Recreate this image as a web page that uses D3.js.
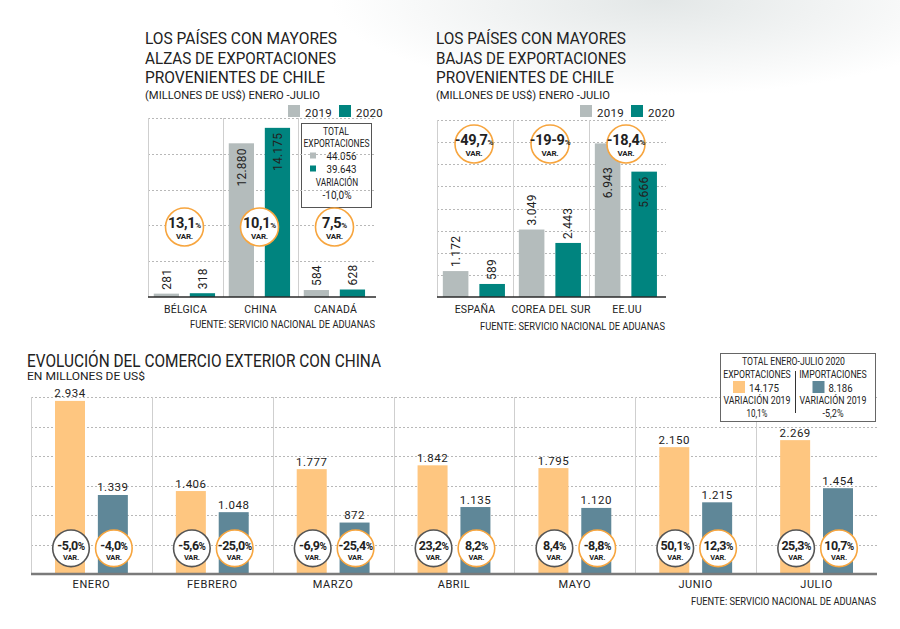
<!DOCTYPE html>
<html><head><meta charset="utf-8">
<script src="https://cdn.jsdelivr.net/npm/d3@7"></script>
<style>
body{margin:0;background:#fff;}
svg text{font-family:Roboto,"Noto Sans",sans-serif;fill:#222;}
</style></head><body>
<svg id="c" width="900" height="629"></svg>
<script>
// ---------- DATA ----------
const years = ["2019", "2020"];
const topLeftCategories = ["BÉLGICA", "CHINA", "CANADÁ"];
const topLeft2019 = [281, 12880, 584];
const topLeft2020 = [318, 14175, 628];
const topLeftVariation = ["13,1", "10,1", "7,5"];
const topLeftTicks = [0, 3000, 6000, 9000, 12000, 15000];
const totalExportValues = ["44.056", "39.643"];
const totalExportVariation = "-10,0%";

const topRightCategories = ["ESPAÑA", "COREA DEL SUR", "EE.UU"];
const topRight2019 = [1172, 3049, 6943];
const topRight2020 = [589, 2443, 5666];
const topRightVariation = ["-49,7", "-19-9", "-18,4"];
const topRightTicks = [0, 1000, 2000, 3000, 4000, 5000, 6000, 7000, 8000];

const months = ["ENERO", "FEBRERO", "MARZO", "ABRIL", "MAYO", "JUNIO", "JULIO"];
const chinaExports = [2934, 1406, 1777, 1842, 1795, 2150, 2269];
const chinaImports = [1339, 1048, 872, 1135, 1120, 1215, 1454];
const exportsVariation = ["-5,0", "-5,6", "-6,9", "23,2", "8,4", "50,1", "25,3"];
const importsVariation = ["-4,0", "-25,0", "-25,4", "8,2", "-8,8", "12,3", "10,7"];
const bottomTicks = [0, 500, 1000, 1500, 2000, 2500, 3000];
const totalChina = ["14.175", "8.186"];
const totalChinaVariation = ["10,1%", "-5,2%"];

// ---------- SETUP ----------
const svg = d3.select("#c");
const fmt = d3.formatLocale({decimal: ",", thousands: ".", grouping: [3], currency: ["$", ""]}).format(",d");
const GRAY = "#b4bcbc", TEAL = "#00847f", ORANGE = "#fec680", BLUE = "#5f8798", CIRC = "#f7a53e";

const defs = svg.append("defs");
const rg = defs.append("radialGradient").attr("id", "bg").attr("gradientUnits", "userSpaceOnUse")
  .attr("cx", 0).attr("cy", 0).attr("r", 1).attr("gradientTransform", "translate(660,0) scale(330,95)");
rg.append("stop").attr("offset", 0).attr("stop-color", "#e3e7e7");
rg.append("stop").attr("offset", 1).attr("stop-color", "#ffffff");
svg.append("rect").attr("x", 0).attr("y", 0).attr("width", 900).attr("height", 100).attr("fill", "url(#bg)");

function txt(g, x, y, s, size, opts = {}) {
  const t = g.append("text").attr("x", x).attr("y", y).text(s).style("font-size", size + "px");
  if (opts.anchor) t.attr("text-anchor", opts.anchor);
  if (opts.weight) t.style("font-weight", opts.weight);
  if (opts.ls) t.style("letter-spacing", opts.ls + "px");
  if (opts.fill) t.style("fill", opts.fill);
  if (opts.w) t.attr("textLength", opts.w).attr("lengthAdjust", "spacingAndGlyphs");
  return t;
}

function legend(g, x, y) {
  [[GRAY, "2019"], [TEAL, "2020"]].forEach((d, i) => {
    const ox = x + i * 51;
    g.append("rect").attr("x", ox).attr("y", y - 12).attr("width", 12).attr("height", 12).attr("fill", d[0]);
    txt(g, ox + 17, y, d[1], 11.5, {ls: 0.3});
  });
}

function varCircle(g, cx, cy, r, label, stroke, big, small, nb, vb, ls, vs) {
  g.append("circle").attr("cx", cx).attr("cy", cy).attr("r", r).attr("fill", "#fff")
    .attr("stroke", stroke).attr("stroke-width", 1.6);
  const t = txt(g, cx, cy + nb, label, big, {anchor: "middle", weight: "bold", ls: ls});
  t.append("tspan").text("%").style("font-size", small + "px");
  txt(g, cx, cy + vb, "VAR.", vs, {anchor: "middle", weight: "bold", ls: -0.2});
}

function pairChart(o) {
  const g = svg.append("g");
  const x0 = d3.scaleBand().domain(o.cats).range([o.left, o.right]);
  const x1 = d3.scaleBand().domain(years).range([0, x0.bandwidth()]).paddingInner(0.3).paddingOuter(0.19).align(0.42);
  const y = d3.scaleLinear().domain([0, d3.max(o.ticks)]).range([o.bottom, o.top]);
  g.selectAll(".h").data(o.ticks.filter(t => t > 0)).join("line")
    .attr("x1", o.left).attr("x2", o.gridRight).attr("y1", d => Math.round(y(d)) + 0.5).attr("y2", d => Math.round(y(d)) + 0.5)
    .attr("stroke", "#b8b8b8").attr("stroke-dasharray", "2,2");
  g.selectAll(".v").data(o.cats).join("line")
    .attr("x1", d => Math.round(x0(d)) + 0.5).attr("x2", d => Math.round(x0(d)) + 0.5)
    .attr("y1", y(d3.max(o.ticks))).attr("y2", y(0)).attr("stroke", "#cfcfcf");
  const rows = o.cats.map((c, i) => ({c, i, vals: [o.a[i], o.b[i]]}));
  rows.forEach(r => {
    r.vals.forEach((v, k) => {
      const bx = x0(r.c) + x1(years[k]);
      g.append("rect").attr("x", bx).attr("y", y(v)).attr("width", x1.bandwidth()).attr("height", y(0) - y(v))
        .attr("fill", k === 0 ? GRAY : TEAL);
    });
  });
  g.append("line").attr("x1", o.left).attr("x2", o.gridRight).attr("y1", y(0)).attr("y2", y(0)).attr("stroke", "#2a2a2a").attr("stroke-width", 1.6);
  const R = 19;
  rows.forEach(r => {
    varCircle(g, x0(r.c) + x0.bandwidth() / 2 - 1, o.circleY, R, o.vars[r.i], CIRC, 14.5, 8, 1, 12, -0.3, 8);
  });
  rows.forEach(r => {
    r.vals.forEach((v, k) => {
      const cx = x0(r.c) + x1(years[k]) + x1.bandwidth() / 2;
      const h = y(0) - y(v);
      let yy, anchor;
      if (h > 100) {
        const top = y(v) + 5, bottom = top + 38;
        const ccx = x0(r.c) + x0.bandwidth() / 2 - 1;
        const overlap = bottom > o.circleY - R && top < o.circleY + R && Math.abs(cx - ccx) < R + 8;
        yy = overlap ? o.circleY + R + 4 : top;
        anchor = "end";
      } else {
        yy = y(v) - 4; anchor = "start";
      }
      g.append("text").attr("transform", `translate(${cx},${yy}) rotate(-90)`).attr("dy", "0.36em")
        .attr("text-anchor", anchor).text(fmt(v)).style("font-size", "12px").style("letter-spacing", "0.2px");
    });
  });
  o.cats.forEach(c => txt(g, x0(c) + x0.bandwidth() / 2, y(0) + 16, c, 10.5, {anchor: "middle", ls: 0.2}));
  return g;
}

// ---------- TOP LEFT ----------
const gl = svg.append("g");
txt(gl, 145, 44, "LOS PAÍSES CON MAYORES", 16.5, {w: 192});
txt(gl, 145, 63.5, "ALZAS DE EXPORTACIONES", 16.5, {w: 191});
txt(gl, 145, 83, "PROVENIENTES DE CHILE", 16.5, {w: 180});
txt(gl, 145, 99, "(MILLONES DE US$) ENERO -JULIO", 11, {w: 175});
legend(gl, 288, 117);
pairChart({cats: topLeftCategories, a: topLeft2019, b: topLeft2020, vars: topLeftVariation,
  ticks: topLeftTicks, left: 148, right: 373, gridRight: 376, top: 118, bottom: 297, circleY: 227});
txt(gl, 375, 328, "FUENTE: SERVICIO NACIONAL DE ADUANAS", 10, {anchor: "end", w: 185});
// total box
gl.append("rect").attr("x", 301.5).attr("y", 123.5).attr("width", 70).attr("height", 84).attr("fill", "#fff").attr("stroke", "#555");
txt(gl, 336, 134.5, "TOTAL", 10, {anchor: "middle", w: 26});
txt(gl, 336.5, 147, "EXPORTACIONES", 10, {anchor: "middle", w: 66});
[[GRAY, 0], [TEAL, 1]].forEach(d => {
  gl.append("rect").attr("x", 310).attr("y", 152.5 + d[1] * 13).attr("width", 6).attr("height", 6).attr("fill", d[0]);
  txt(gl, 326.5, 159.5 + d[1] * 13, totalExportValues[d[1]], 10, {w: 30});
});
txt(gl, 337, 185.5, "VARIACIÓN", 10, {anchor: "middle", w: 42.5});
txt(gl, 337, 199, totalExportVariation, 10, {anchor: "middle", w: 29});

// ---------- TOP RIGHT ----------
const gr = svg.append("g");
txt(gr, 436, 44, "LOS PAÍSES CON MAYORES", 16.5, {w: 190});
txt(gr, 436, 63.5, "BAJAS DE EXPORTACIONES", 16.5, {w: 190});
txt(gr, 436, 83, "PROVENIENTES DE CHILE", 16.5, {w: 178});
txt(gr, 436, 99, "(MILLONES DE US$) ENERO -JULIO", 11, {w: 174});
legend(gr, 580, 117);
pairChart({cats: topRightCategories, a: topRight2019, b: topRight2020, vars: topRightVariation,
  ticks: topRightTicks, left: 437, right: 665, gridRight: 666, top: 120, bottom: 297, circleY: 144});
txt(gr, 665, 330, "FUENTE: SERVICIO NACIONAL DE ADUANAS", 10, {anchor: "end", w: 185});

// ---------- BOTTOM ----------
const gb = svg.append("g");
txt(gb, 27, 367, "EVOLUCIÓN DEL COMERCIO EXTERIOR CON CHINA", 17.5, {w: 354});
txt(gb, 27, 379.5, "EN MILLONES DE US$", 10, {w: 118});
const bx0 = d3.scaleBand().domain(months).range([31, 877]);
const bx1 = d3.scaleBand().domain(["exp", "imp"]).range([0, bx0.bandwidth()]).paddingInner(0.3).paddingOuter(0.56);
const by = d3.scaleLinear().domain([0, d3.max(bottomTicks)]).range([574, 397]);
gb.selectAll(".h").data(bottomTicks.filter(t => t > 0)).join("line")
  .attr("x1", 31).attr("x2", 877).attr("y1", d => Math.round(by(d)) + 0.5).attr("y2", d => Math.round(by(d)) + 0.5)
  .attr("stroke", "#b8b8b8").attr("stroke-dasharray", "2,2");
gb.selectAll(".v").data(months).join("line")
  .attr("x1", d => Math.round(bx0(d)) + 0.5).attr("x2", d => Math.round(bx0(d)) + 0.5)
  .attr("y1", by(3000)).attr("y2", by(0)).attr("stroke", "#cfcfcf");
const series = [["exp", chinaExports, ORANGE, exportsVariation, "#555"], ["imp", chinaImports, BLUE, importsVariation, CIRC]];
months.forEach((m, i) => {
  series.forEach(s => {
    const v = s[1][i];
    const x = bx0(m) + bx1(s[0]);
    gb.append("rect").attr("x", x).attr("y", by(v)).attr("width", bx1.bandwidth()).attr("height", by(0) - by(v)).attr("fill", s[2]);
    txt(gb, x + bx1.bandwidth() / 2, by(v) - 3.5, fmt(v), 11.5, {anchor: "middle", ls: 0.5});
  });
});
gb.append("line").attr("x1", 31).attr("x2", 877).attr("y1", 574).attr("y2", 574).attr("stroke", "#7a7a7a").attr("stroke-width", 2.5);
months.forEach((m, i) => {
  series.forEach(s => {
    const cx = bx0(m) + bx1(s[0]) + bx1.bandwidth() / 2 + 1;
    varCircle(gb, cx, 548.3, 18.3, s[3][i], s[4], 12.5, 10, 1.5, 11.5, -0.5, 7.5);
  });
  txt(gb, bx0(m) + bx0.bandwidth() / 2, 588, m, 11, {anchor: "middle", ls: 0.6});
});
txt(gb, 876, 605, "FUENTE: SERVICIO NACIONAL DE ADUANAS", 10, {anchor: "end", w: 185});
// legend box
gb.append("rect").attr("x", 720.5).attr("y", 353.5).attr("width", 155).attr("height", 68).attr("fill", "#fff").attr("stroke", "#666");
txt(gb, 793.5, 364.5, "TOTAL ENERO-JULIO 2020", 10, {anchor: "middle", w: 103});
gb.append("line").attr("x1", 795.5).attr("x2", 795.5).attr("y1", 371).attr("y2", 413).attr("stroke", "#333");
[[757, ORANGE, "EXPORTACIONES", 0, 733], [833, BLUE, "IMPORTACIONES", 1, 812.5]].forEach(d => {
  txt(gb, d[0], 378, d[2], 10, {anchor: "middle", w: 67.5});
  gb.append("rect").attr("x", d[4]).attr("y", 381).attr("width", 12).attr("height", 12).attr("fill", d[1]);
  txt(gb, d[4] + 16, 392, totalChina[d[3]], 10.5, {w: d[3] === 0 ? 30 : 24});
  txt(gb, d[0], 404, "VARIACIÓN 2019", 10, {anchor: "middle", w: 67});
  txt(gb, d[0], 416.5, totalChinaVariation[d[3]], 10, {anchor: "middle", w: 21});
});
</script>
</body></html>
